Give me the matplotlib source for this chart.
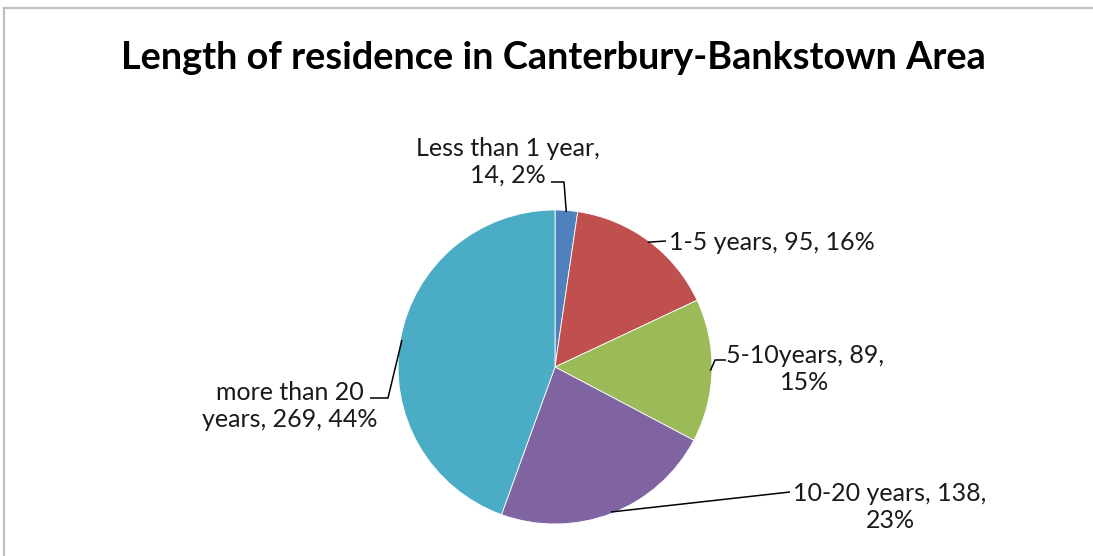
import numpy as np
import matplotlib.pyplot as plt
from matplotlib.lines import Line2D

W, H = 1093, 556

categories = ["Less than 1 year", "1-5 years", "5-10years", "10-20 years", "more than 20 years"]
counts = [14, 95, 89, 138, 269]
colors = ["#4F81BD", "#C0504D", "#9BBB59", "#8064A2", "#4BACC6"]

# label text, text anchor (x, y from top) and the elbow points of each leader line
label_text = [
    "Less than 1 year,\n14, 2%",
    "1-5 years, 95, 16%",
    "5-10years, 89,\n15%",
    "10-20 years, 138,\n23%",
    "more than 20\nyears, 269, 44%",
]
label_pos = [(508, 162), (669, 242), (805, 369), (890, 507), (290, 406)]
label_ha = ["center", "left", "center", "center", "center"]
leader_pts = [
    [(564, 182), (551, 182)],
    [(666, 241)],
    [(715, 360), (726, 360)],
    [(790, 492)],
    [(388, 398), (370, 398)],
]

plt.rcParams["font.family"] = ["Lato", "DejaVu Sans"]

fig = plt.figure(figsize=(W / 100, H / 100), dpi=100)
ax = fig.add_axes([0, 0, 1, 1])

cx, cy, r = 555, H - 367, 157
wedges, _ = ax.pie(counts, colors=colors, startangle=90, counterclock=False,
                   center=(cx, cy), radius=r, frame=True,
                   wedgeprops=dict(edgecolor="white", linewidth=0.6))
ax.set_xlim(0, W)
ax.set_ylim(0, H)
ax.set_aspect("equal")
ax.axis("off")

for w, txt, (tx, ty), ha, pts in zip(wedges, label_text, label_pos, label_ha, leader_pts):
    mid = np.deg2rad((w.theta1 + w.theta2) / 2)
    ex, ey = cx + r * 0.99 * np.cos(mid), cy + r * 0.99 * np.sin(mid)
    xs = [ex] + [p[0] for p in pts]
    ys = [ey] + [H - p[1] for p in pts]
    ax.plot(xs, ys, color="black", lw=1.1, solid_capstyle="butt")
    ax.text(tx, H - ty, txt, ha=ha, va="center", multialignment="center",
            fontsize=18, color="#1a1a1a", linespacing=1.2)

ax.text(553, H - 58, "Length of residence in Canterbury-Bankstown Area",
        ha="center", va="center", fontsize=27.3, fontweight="bold", color="black")

# thin grey frame along the top and left edges
fig.add_artist(Line2D([4 / W, 1], [1 - 8 / H, 1 - 8 / H], color="#c0c0c0", lw=1.6))
fig.add_artist(Line2D([4 / W, 4 / W], [0, 1 - 8 / H], color="#c0c0c0", lw=1.6))

fig.savefig("out.png", dpi=100)
